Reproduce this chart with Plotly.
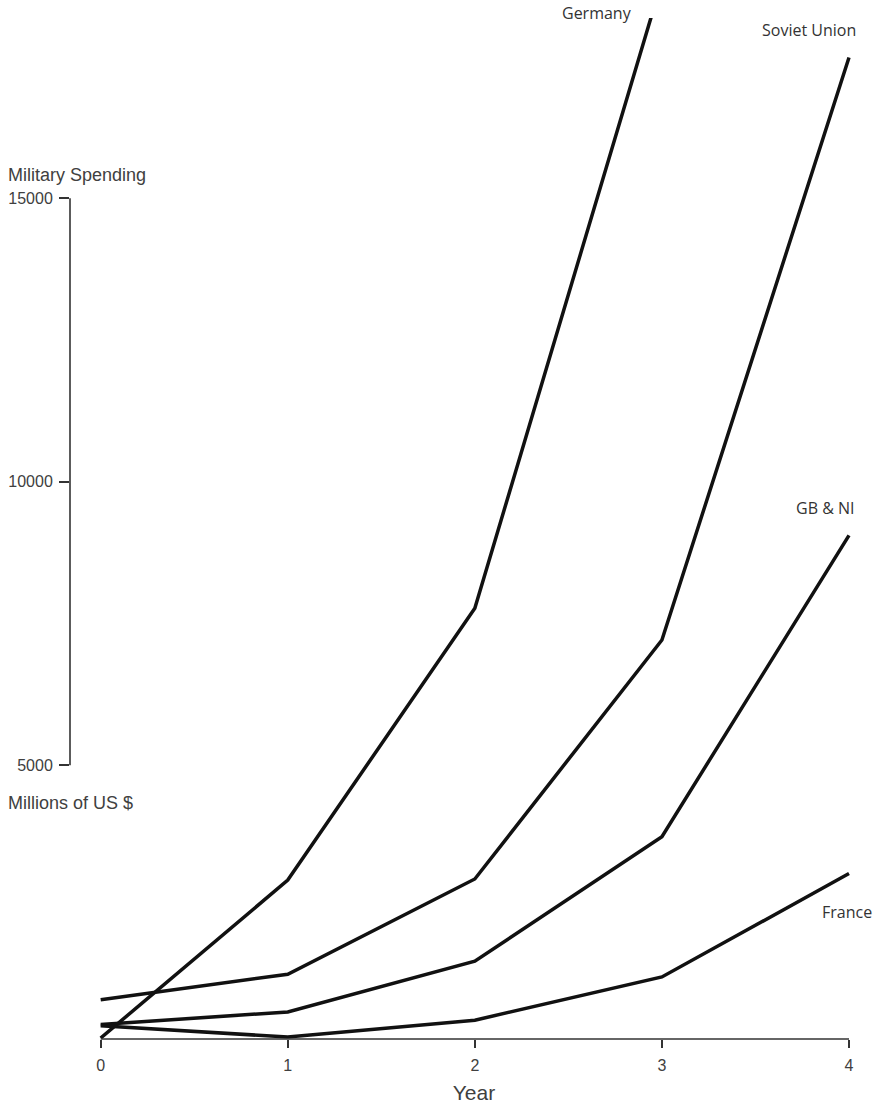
import plotly.graph_objects as go

years = [0, 1, 2, 3, 4]
germany = [190, 2975, 7770, 18830, 29000]
soviet_union = [865, 1315, 2995, 7210, 17480]
gb_ni = [430, 650, 1545, 3740, 9055]
france = [405, 208, 505, 1267, 3090]

series_names = ["Germany", "Soviet Union", "GB & NI", "France"]
series_values = [germany, soviet_union, gb_ni, france]

x_ticks = [0, 1, 2, 3, 4]
y_ticks = [5000, 10000, 15000]

W, H = 878, 1108
ML, MR, MT, MB = 70, 0, 18, 69
XR = [-0.164, 4.155]
YR = [173, 18178]

def px_x(px):
    return (px - ML) / (W - ML - MR)

def px_y(py):
    return (H - MB - py) / (H - MT - MB)

fig = go.Figure()
for name, vals in zip(series_names, series_values):
    fig.add_trace(go.Scatter(x=years, y=vals, mode="lines", name=name,
                             line=dict(color="#111111", width=3.5),
                             showlegend=False, hoverinfo="x+y+name"))

label_font = dict(family="Open Sans", size=16, color="#333333")
axis_font = dict(family="Liberation Sans, Arial", size=16, color="#404040")
note_font = dict(family="Liberation Sans, Arial", size=18, color="#404040")

labels = [("Germany", 597, 13), ("Soviet Union", 809, 30), ("GB & NI", 825, 508), ("France", 847, 912)]
for txt, px, py in labels:
    fig.add_annotation(text=txt, x=px_x(px), y=px_y(py), xref="paper", yref="paper",
                       showarrow=False, font=label_font, xanchor="center", yanchor="middle")

fig.add_annotation(text="Military Spending", x=px_x(6), y=px_y(175), xref="paper", yref="paper",
                   showarrow=False, font=note_font, xanchor="left", yanchor="middle")
fig.add_annotation(text="Millions of US $", x=px_x(6), y=px_y(803), xref="paper", yref="paper",
                   showarrow=False, font=note_font, xanchor="left", yanchor="middle")

# range-frame axis lines
fig.add_shape(type="line", xref="x", yref="paper", x0=x_ticks[0], x1=x_ticks[-1], y0=0, y1=0,
              line=dict(color="#333333", width=1.6))
fig.add_shape(type="line", xref="paper", yref="y", x0=0, x1=0, y0=y_ticks[0], y1=y_ticks[-1],
              line=dict(color="#333333", width=1.6))

fig.update_xaxes(range=XR, showgrid=False, zeroline=False, showline=False,
                 tickmode="array", tickvals=x_ticks, ticktext=[str(v) for v in x_ticks],
                 ticks="outside", ticklen=8, tickwidth=1.6, tickcolor="#333333",
                 tickfont=axis_font, ticklabelstandoff=4,
                 title=dict(text="Year", font=dict(family="Liberation Sans, Arial", size=21, color="#404040"), standoff=12))
fig.update_yaxes(range=YR, showgrid=False, zeroline=False, showline=False,
                 tickmode="array", tickvals=y_ticks, ticktext=[str(v) for v in y_ticks],
                 ticks="outside", ticklen=10, tickwidth=1.6, tickcolor="#333333",
                 tickfont=axis_font, ticklabelstandoff=3)

fig.update_layout(width=W, height=H, margin=dict(l=ML, r=MR, t=MT, b=MB),
                  paper_bgcolor="white", plot_bgcolor="white", showlegend=False)

fig.write_html("out.html", config={"displayModeBar": False},
               post_script="document.body.style.margin='0';")
